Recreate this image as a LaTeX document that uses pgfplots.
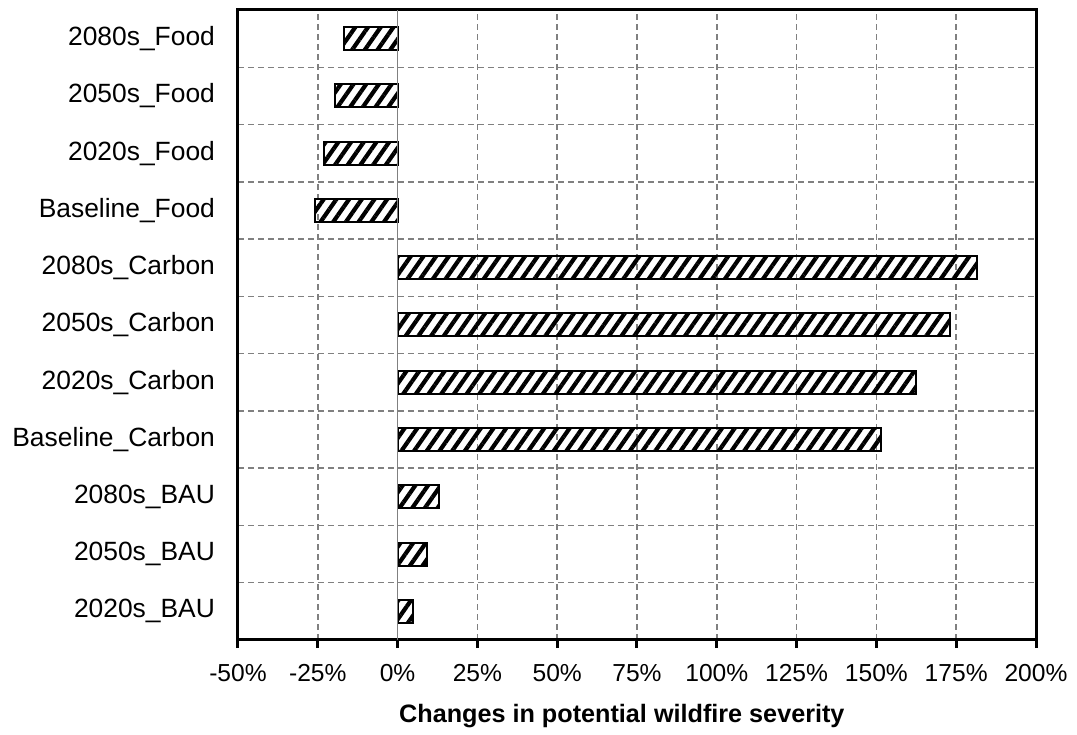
\documentclass[border=0pt]{standalone}
\usepackage{fontspec}
\setmainfont{Liberation Sans}
\usepackage{pgfplots}
\pgfplotsset{compat=1.18}
\usetikzlibrary{patterns.meta}
\begin{document}
\begin{tikzpicture}
% page frame: 1077 x 728 px at 0.5pt per px
\path (-119pt,-44pt) rectangle (419.5pt,320pt);
\begin{axis}[
    at={(0pt,0pt)}, anchor=south west,
    scale only axis,
    width=399pt, height=315pt,
    xbar, bar width=11.5pt,
    xmin=-50, xmax=200,
    ymin=-0.5, ymax=10.5,
    xtick={-50,-25,...,200},
    xticklabels={-50\%,-25\%,0\%,25\%,50\%,75\%,100\%,125\%,150\%,175\%,200\%},
    ytick={0,...,10},
    yticklabels={2020s\_BAU,2050s\_BAU,2080s\_BAU,Baseline\_Carbon,2020s\_Carbon,2050s\_Carbon,2080s\_Carbon,Baseline\_Food,2020s\_Food,2050s\_Food,2080s\_Food},
    minor ytick={0.5,1.5,...,9.5},
    xmajorgrids, yminorgrids,
    grid style={gray, line width=0.75pt, dash pattern=on 3pt off 2pt},
    axis line style={line width=1.5pt},
    tick style={line width=1.5pt, black},
    major tick length=4pt, minor tick length=0pt,
    tick align=outside,
    xtick pos=lower,
    ytick style={draw=none},
    xticklabel style={font=\fontsize{12.3}{15}\selectfont, yshift=-4.5pt},
    yticklabel style={font=\fontsize{13.2}{16}\selectfont, xshift=-4pt},
    xlabel={\bfseries Changes in potential wildfire severity},
    xlabel style={font=\fontsize{12.6}{15}\selectfont, at={(axis description cs:0.481,-0.12)}, anchor=center},
    clip=false,
]
\addplot[draw=black, line width=1pt,
    pattern={Lines[angle=55, distance=5.2pt, line width=2.1pt]}, pattern color=black]
    coordinates {
    (4.7,0) (9.2,1) (13,2)
    (151.3,3) (162.4,4) (173,5) (181.4,6)
    (-26,7) (-23,8) (-19.7,9) (-16.8,10)
    };
\draw[gray, line width=0.8pt] (axis cs:0,-0.5) -- (axis cs:0,10.5);
\end{axis}
\end{tikzpicture}
\end{document}
